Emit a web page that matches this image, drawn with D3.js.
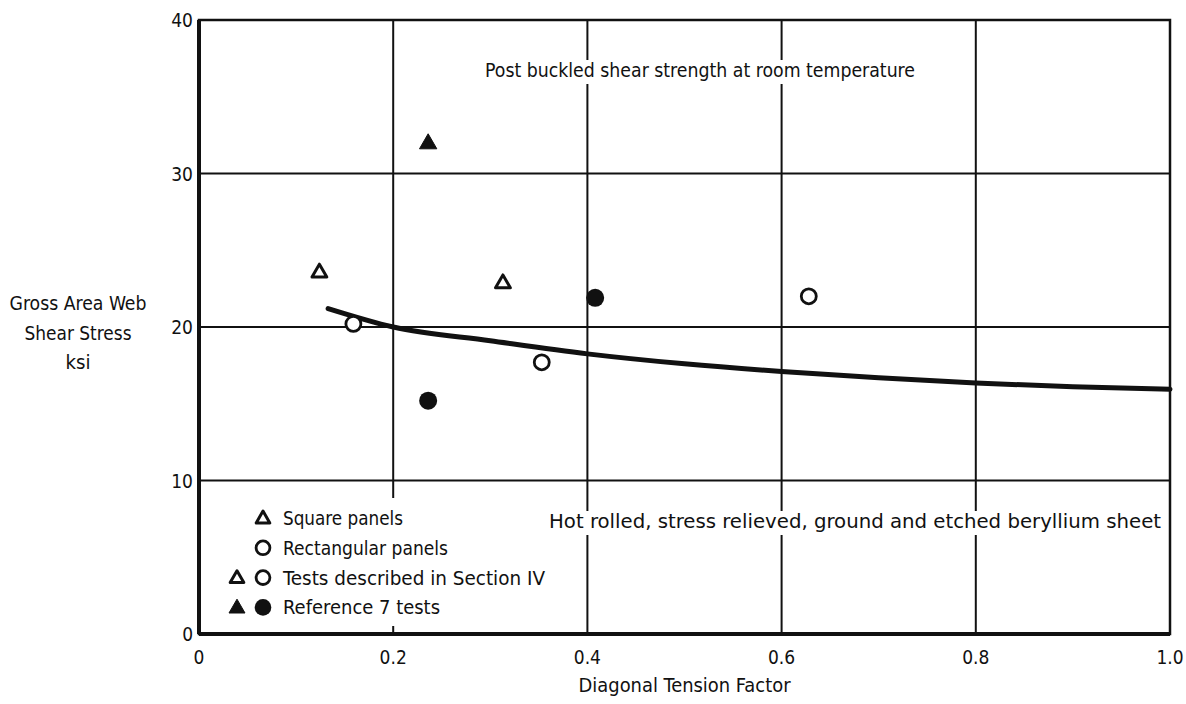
<!DOCTYPE html>
<html>
<head>
  <meta charset="utf-8">
  <title>Post buckled shear strength</title>
  <style>
    html, body {
      margin: 0;
      padding: 0;
      background: #fff;
    }
    svg {
      display: block;
      font-family: "DejaVu Sans Condensed", "Liberation Sans Narrow", sans-serif;
    }
    .grid line {
      stroke: #111;
      stroke-width: 2;
    }
    .lbl {
      fill: #111;
      font-size: 19px;
    }
    .tick {
      fill: #111;
      font-size: 19px;
    }
  </style>
</head>
<body>
  <svg id="chart" width="1186" height="704"></svg>

  <script src="https://d3js.org/d3.v7.min.js"></script>
  <script>
    // tick values
    const xTicks = [0, 0.2, 0.4, 0.6, 0.8, 1.0];
    const xTickLabels = ["0", "0.2", "0.4", "0.6", "0.8", "1.0"];
    const yTicks = [0, 10, 20, 30, 40];
    const yTickLabels = ["0", "10", "20", "30", "40"];

    // test points [diagonal tension factor, shear stress ksi]
    const squareSectionIV = [[0.124, 23.6], [0.313, 22.9]];
    const rectSectionIV = [[0.159, 20.2], [0.353, 17.7], [0.628, 22.0]];
    const squareRef7 = [[0.236, 32.0]];
    const rectRef7 = [[0.236, 15.2], [0.408, 21.9]];

    // design curve
    const curveX = [0.133, 0.2, 0.3, 0.4, 0.5, 0.6, 0.7, 0.8, 0.9, 1.0];
    const curveY = [21.2, 20.0, 19.1, 18.25, 17.6, 17.1, 16.7, 16.35, 16.1, 15.95];

    const legendRows = [
      { text: "Square panels", marks: ["triOpen"] },
      { text: "Rectangular panels", marks: ["circOpen"] },
      { text: "Tests described in Section IV", marks: ["triOpen", "circOpen"] },
      { text: "Reference 7 tests", marks: ["triFill", "circFill"] }
    ];

    const svg = d3.select("#chart");
    const x = d3.scaleLinear().domain([0, 1]).range([199, 1170]);
    const y = d3.scaleLinear().domain([0, 40]).range([634, 20]);

    // grid
    const grid = svg.append("g").attr("class", "grid");
    grid.selectAll("line.v")
      .data(xTicks.slice(1, -1))
      .enter().append("line")
      .attr("x1", d => x(d)).attr("x2", d => x(d))
      .attr("y1", y(0)).attr("y2", y(40));
    grid.selectAll("line.h")
      .data(yTicks.slice(1, -1))
      .enter().append("line")
      .attr("x1", x(0)).attr("x2", x(1))
      .attr("y1", d => y(d)).attr("y2", d => y(d));

    // legend backing (breaks the grid like the original)
    svg.append("rect")
      .attr("x", x(0) + 3).attr("y", 498)
      .attr("width", 345).attr("height", 128)
      .attr("fill", "#fff");

    // frame
    svg.append("rect")
      .attr("x", x(0)).attr("y", y(40))
      .attr("width", x(1) - x(0)).attr("height", y(0) - y(40))
      .attr("fill", "none").attr("stroke", "#111").attr("stroke-width", 2.5);
    svg.append("line")
      .attr("x1", x(0)).attr("x2", x(0)).attr("y1", y(40)).attr("y2", y(0))
      .attr("stroke", "#111").attr("stroke-width", 4);
    svg.append("line")
      .attr("x1", x(0)).attr("x2", x(1)).attr("y1", y(0)).attr("y2", y(0))
      .attr("stroke", "#111").attr("stroke-width", 4);

    // tick labels
    svg.append("g").selectAll("text")
      .data(xTicks)
      .enter().append("text")
      .attr("class", "tick")
      .attr("x", d => x(d)).attr("y", 664)
      .attr("text-anchor", "middle")
      .text((d, i) => xTickLabels[i]);
    svg.append("g").selectAll("text")
      .data(yTicks)
      .enter().append("text")
      .attr("class", "tick")
      .attr("x", 193).attr("y", d => y(d) + 7)
      .attr("text-anchor", "end")
      .text((d, i) => yTickLabels[i]);

    // axis titles
    svg.append("text").attr("class", "lbl")
      .attr("x", (x(0) + x(1)) / 2).attr("y", 692)
      .attr("text-anchor", "middle")
      .attr("textLength", 212).attr("lengthAdjust", "spacingAndGlyphs")
      .text("Diagonal Tension Factor");
    const yTitle = ["Gross Area Web", "Shear Stress", "ksi"];
    const yTitleLen = [137, 107, 25];
    svg.append("g").selectAll("text")
      .data(yTitle)
      .enter().append("text")
      .attr("class", "lbl")
      .attr("x", 78).attr("y", (d, i) => 310 + i * 29.5)
      .attr("text-anchor", "middle")
      .attr("textLength", (d, i) => yTitleLen[i]).attr("lengthAdjust", "spacingAndGlyphs")
      .text(d => d);

    // annotations with white backing
    function note(txt, cx, by, len) {
      svg.append("rect")
        .attr("x", cx - len / 2 - 4).attr("y", by - 17)
        .attr("width", len + 8).attr("height", 24)
        .attr("fill", "#fff");
      svg.append("text").attr("class", "lbl")
        .attr("x", cx).attr("y", by)
        .attr("text-anchor", "middle")
        .attr("textLength", len).attr("lengthAdjust", "spacingAndGlyphs")
        .text(txt);
    }
    note("Post buckled shear strength at room temperature", 700, 77, 430);
    note("Hot rolled, stress relieved, ground and etched beryllium sheet", 855, 528, 612);

    // curve
    const line = d3.line()
      .x(d => x(d[0])).y(d => y(d[1]))
      .curve(d3.curveMonotoneX);
    svg.append("path")
      .datum(curveX.map((v, i) => [v, curveY[i]]))
      .attr("d", line)
      .attr("fill", "none").attr("stroke", "#111")
      .attr("stroke-width", 5).attr("stroke-linecap", "round");

    // markers
    const tri = d3.symbol().type(d3.symbolTriangle);
    function drawMark(g, kind, px, py, scale) {
      if (kind === "triOpen" || kind === "triFill") {
        g.append("path")
          .attr("transform", `translate(${px},${py + 1})`)
          .attr("d", tri.size((kind === "triOpen" ? 95 : 130) * scale)())
          .attr("fill", kind === "triFill" ? "#111" : "#fff")
          .attr("stroke", "#111")
          .attr("stroke-width", kind === "triOpen" ? 3 : 1)
          .attr("stroke-linejoin", "round");
      } else {
        g.append("circle")
          .attr("cx", px).attr("cy", py)
          .attr("r", (kind === "circOpen" ? 7.5 : 9) * Math.sqrt(scale))
          .attr("fill", kind === "circFill" ? "#111" : "#fff")
          .attr("stroke", "#111")
          .attr("stroke-width", kind === "circOpen" ? 2.8 : 0);
      }
    }
    const marks = svg.append("g");
    squareSectionIV.forEach(d => drawMark(marks, "triOpen", x(d[0]), y(d[1]), 1));
    rectSectionIV.forEach(d => drawMark(marks, "circOpen", x(d[0]), y(d[1]), 1));
    squareRef7.forEach(d => drawMark(marks, "triFill", x(d[0]), y(d[1]), 1));
    rectRef7.forEach(d => drawMark(marks, "circFill", x(d[0]), y(d[1]), 1));

    // legend
    const lg = svg.append("g");
    const legendTextLen = [120, 165, 262, 157];
    legendRows.forEach((row, i) => {
      const ry = 518 + i * 29.8;
      const n = row.marks.length;
      row.marks.forEach((m, j) => {
        const mx = 263 - (n - 1 - j) * 26;
        drawMark(lg, m, mx, ry, 0.85);
      });
      lg.append("text").attr("class", "lbl")
        .attr("x", 283).attr("y", ry + 7)
        .attr("textLength", legendTextLen[i]).attr("lengthAdjust", "spacingAndGlyphs")
        .text(row.text);
    });
  </script>
</body>
</html>
